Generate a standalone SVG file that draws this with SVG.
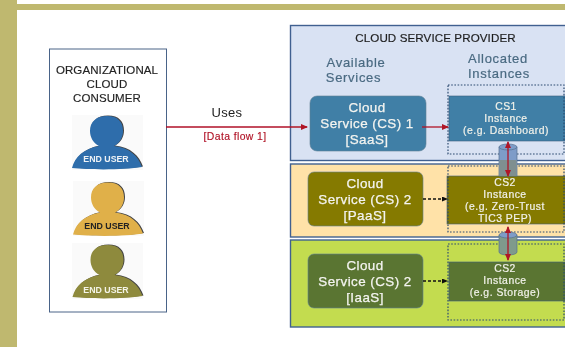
<svg xmlns="http://www.w3.org/2000/svg" xmlns:xlink="http://www.w3.org/1999/xlink" width="565" height="347" viewBox="0 0 565 347">
<style>
text{font-family:"Liberation Sans","Noto Sans",sans-serif;text-anchor:middle}
.panel{stroke:#3f6190;stroke-width:1.4}
.svc{stroke:#5f7f95;stroke-width:.6}
.inst{stroke:#3f5f7f;stroke-width:.6}
.dot{fill:none;stroke:#2c4a70;stroke-width:1.2;stroke-dasharray:1.6 1.6}
.t1{font-size:13.400px;letter-spacing:.45px;fill:#f4f4f0;stroke:#f4f4f0;stroke-width:.25}
.t2{font-size:10.400px;letter-spacing:.5px;fill:#f2f2ea;stroke:#f2f2ea;stroke-width:.2}
.hd{font-size:13px;letter-spacing:.7px;fill:#4a6a82;stroke:#4a6a82;stroke-width:.2}
.cons{font-size:11.500px;letter-spacing:.1px;fill:#222;stroke:#222;stroke-width:.15}
.eu{font-size:8.800px;font-weight:700}
.red{stroke:#b01426;stroke-width:1.3;fill:none}
.blk{stroke:#111;stroke-width:1.3;fill:none;stroke-dasharray:3 2}
.cyl{fill:#7e9cc8;stroke:#55708f;stroke-width:.7}
.soft{filter:url(#b)}
</style>
<defs>
<filter id="b" x="-5%" y="-5%" width="110%" height="110%"><feGaussianBlur stdDeviation="0.45"/></filter>
<marker id="ar" markerWidth="7" markerHeight="6" refX="6" refY="3" orient="auto-start-reverse" markerUnits="userSpaceOnUse"><path d="M0 0L7 3L0 6z" fill="#b01426"/></marker>
<marker id="ak" markerWidth="6" markerHeight="5" refX="5" refY="2.500" orient="auto" markerUnits="userSpaceOnUse"><path d="M0 0L6 2.500L0 5z" fill="#111"/></marker>
<path id="person" d="M72 168C75 157 83 149 99 146C93 143 90 137 90 131C90 122 96 116 107 116C118 116 123 122 123 131C123 137 120 143 114 146C130 148 138 156 142 167C125 170 90 170 72 168Z"/>
</defs>
<rect width="565" height="347" fill="#fff"/>
<rect x="0" y="0" width="17" height="347" fill="#bfb86f"/>
<rect x="17" y="4" width="548" height="6" fill="#bfb86f"/>
<g class="soft">
<g id="consumer">
<rect x="49.500" y="49" width="117" height="263" fill="#fff" stroke="#4a6488" stroke-width="1"/>
<text class="cons" x="107" y="74">ORGANIZATIONAL</text>
<text class="cons" x="107" y="88">CLOUD</text>
<text class="cons" x="107" y="102">CONSUMER</text>
</g>
<g id="user1">
<rect x="72" y="115" width="71" height="55" fill="#fafafa"/>
<use xlink:href="#person" href="#person" x="1" y="-0.600" fill="#444"/>
<use xlink:href="#person" href="#person" fill="#2e6dab"/>
<text class="eu" x="106" y="162" fill="#eef2f6">END USER</text>
</g>
<g id="user2">
<rect x="73" y="181" width="71" height="55" fill="#fafafa"/>
<use xlink:href="#person" href="#person" x="2" y="65.900" fill="#444"/>
<use xlink:href="#person" href="#person" x="1" y="66.500" fill="#e0b04a"/>
<text class="eu" x="107" y="229" fill="#222">END USER</text>
</g>
<g id="user3">
<rect x="72" y="243" width="71" height="56" fill="#fafafa"/>
<use xlink:href="#person" href="#person" x="1.500" y="128.400" fill="#444"/>
<use xlink:href="#person" href="#person" x="0.500" y="129" fill="#8e8a3c"/>
<text class="eu" x="106" y="293" fill="#f4f4e8">END USER</text>
</g>
<g id="provider">
<rect class="panel" x="290.500" y="25.500" width="276" height="135" fill="#d9e2f3"/>
<text x="435.500" y="42" font-size="11.600" letter-spacing=".1" fill="#1f1f1f" stroke="#1f1f1f" stroke-width=".2">CLOUD SERVICE PROVIDER</text>
<text class="hd" x="356" y="67">Available</text>
<text class="hd" x="353.500" y="82">Services</text>
<text class="hd" x="498" y="63">Allocated</text>
<text class="hd" x="499" y="78">Instances</text>
</g>
<g id="paas-band"><rect class="panel" x="290.500" y="164" width="276" height="73" fill="#ffe2a8"/></g>
<g id="iaas-band"><rect class="panel" x="290.500" y="240" width="276" height="87" fill="#c3dc50"/></g>
<g id="service1">
<rect class="svc" x="310" y="96" width="116" height="55" rx="7" fill="#3f7fa6"/>
<text class="t1" x="367" y="112">Cloud</text>
<text class="t1" x="367" y="128">Service (CS) 1</text>
<text class="t1" x="367" y="144">[SaaS]</text>
</g>
<g id="instance1">
<rect class="inst" x="449" y="96" width="117" height="45" fill="#3f7fa6"/>
<rect class="dot" x="448" y="85" width="116" height="69"/>
<text class="t2" x="506" y="110">CS1</text>
<text class="t2" x="506" y="122">Instance</text>
<text class="t2" x="506" y="134">(e.g. Dashboard)</text>
</g>
<g id="service2">
<rect class="svc" x="308" y="172" width="115" height="54" rx="6" fill="#857a00"/>
<text class="t1" x="365" y="188">Cloud</text>
<text class="t1" x="365" y="204">Service (CS) 2</text>
<text class="t1" x="365" y="220">[PaaS]</text>
</g>
<g id="instance2">
<rect class="inst" x="447" y="176" width="119" height="48" fill="#857a00"/>
<rect class="dot" x="448" y="166" width="116" height="66"/>
<text class="t2" x="505" y="186">CS2</text>
<text class="t2" x="505" y="198">Instance</text>
<text class="t2" x="505" y="210">(e.g. Zero-Trust</text>
<text class="t2" x="505" y="222">TIC3 PEP)</text>
</g>
<g id="service3">
<rect class="svc" x="308" y="254" width="115" height="54" rx="6" fill="#5a7532"/>
<text class="t1" x="365" y="270">Cloud</text>
<text class="t1" x="365" y="286">Service (CS) 2</text>
<text class="t1" x="365" y="302">[IaaS]</text>
</g>
<g id="instance3">
<rect class="inst" x="449" y="262" width="117" height="39" fill="#5a7532"/>
<rect class="dot" x="448" y="244" width="116" height="76"/>
<text class="t2" x="505" y="272">CS2</text>
<text class="t2" x="505" y="284">Instance</text>
<text class="t2" x="505" y="296">(e.g. Storage)</text>
</g>
<g id="link1">
<path class="cyl" d="M499 147V176H517V147z"/>
<path d="M499.400 160V176H516.600V160z" fill="#7f8f90"/>
<ellipse class="cyl" cx="508" cy="147" rx="9" ry="3"/>
</g>
<g id="link2">
<path d="M499 235V252C499 256 517 256 517 252V235z" fill="#7f9a8c" stroke="#55708f" stroke-width=".7"/>
<ellipse class="cyl" cx="508" cy="235" rx="9" ry="3"/>
</g>
<g id="labels">
<text x="227" y="117" font-size="13" letter-spacing=".3" fill="#222">Uses</text>
<text x="235" y="140" font-size="10.400" letter-spacing=".4" fill="#b01426" stroke="#b01426" stroke-width=".15">[Data flow 1]</text>
</g>
<g id="connectors">
<path class="red" d="M166 127H307" marker-end="url(#ar)"/>
<path class="red" d="M422 127H448" marker-end="url(#ar)"/>
<path class="blk" d="M423 199H447" marker-end="url(#ak)"/>
<path class="blk" d="M423 281H447" marker-end="url(#ak)"/>
<path class="red" d="M508 142V176" marker-start="url(#ar)" marker-end="url(#ar)"/>
<path class="red" d="M508 227V260" marker-start="url(#ar)" marker-end="url(#ar)"/>
</g>
</g>
</svg>
